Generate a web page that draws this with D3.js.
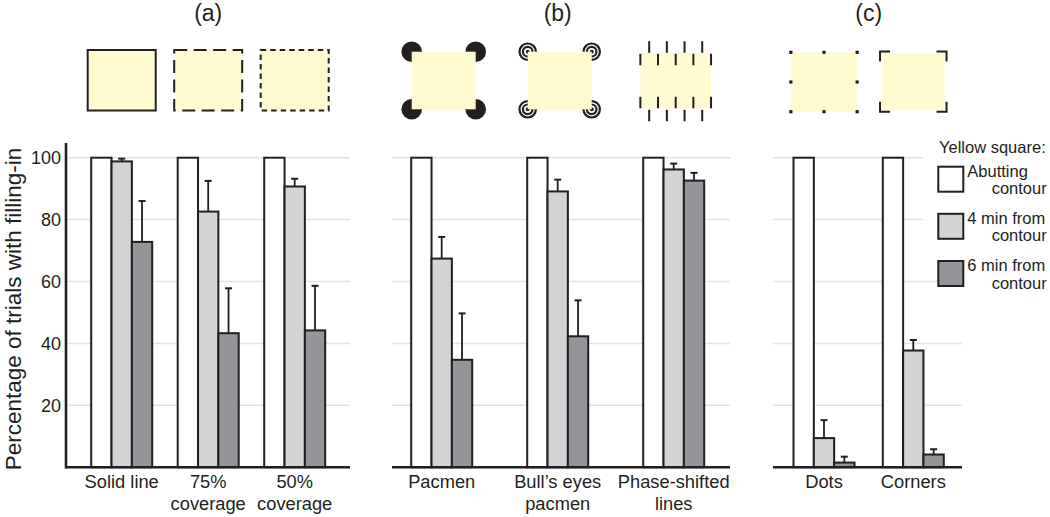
<!DOCTYPE html>
<html>
<head>
<meta charset="utf-8">
<script src="https://cdn.jsdelivr.net/npm/d3@7"></script>
<style>
  body { margin: 0; background: #fff; }
  text { font-family: "Liberation Sans", Arial, Helvetica, sans-serif; fill: #231f20; }
</style>
</head>
<body>
<script>
// ---------------- data ----------------
const panelTitles = ["(a)", "(b)", "(c)"];
const catsA = ["Solid line", "75% coverage", "50% coverage"];
const catsB = ["Pacmen", "Bull’s eyes pacmen", "Phase-shifted lines"];
const catsC = ["Dots", "Corners"];
const labelLinesA = [["Solid line"], ["75%", "coverage"], ["50%", "coverage"]];
const labelLinesB = [["Pacmen"], ["Bull’s eyes", "pacmen"], ["Phase-shifted", "lines"]];
const labelLinesC = [["Dots"], ["Corners"]];
const iconTypes = ["solid", "dashed", "dotted", "pacmen", "bullseye", "phase", "dots", "corners"];
const seriesNames = ["Abutting contour", "4 min from contour", "6 min from contour"];
const legendLines = [["Abutting", "contour"], ["4 min from", "contour"], ["6 min from", "contour"]];
const legendTitle = "Yellow square:";
// values in category order: catsA, catsB, catsC
const abutting = [100, 100, 100, 100, 100, 100, 100, 100];
const min4 = [98.8, 82.6, 90.7, 67.4, 89.1, 96.2, 9.4, 37.7];
const min4Err = [0.9, 9.9, 2.5, 7.0, 3.8, 1.9, 5.8, 3.4];
const min6 = [72.8, 43.3, 44.2, 34.7, 42.3, 92.6, 1.5, 4.1];
const min6Err = [13.2, 14.5, 14.4, 15.0, 11.6, 2.5, 1.9, 1.7];
const yTicks = [20, 40, 60, 80, 100];
const yTitle = "Percentage of trials with filling-in";

// ---------------- setup ----------------
const W = 1050, H = 517;
const ink = "#231f20";
const yellow = "#fffbd1";
const fills = ["#ffffff", "#d1d3d4", "#939598"];
const svg = d3.select("body").append("svg").attr("width", W).attr("height", H);

const y = d3.scaleLinear().domain([0, 100]).range([467.2, 157.7]);

const panels = [
  { cats: catsA, lines: labelLinesA, offset: 0, x0: 66, x1: 350, c: [121.7, 294.7] },
  { cats: catsB, lines: labelLinesB, offset: 3, x0: 392, x1: 730, c: [441.7, 673.7] },
  { cats: catsC, lines: labelLinesC, offset: 6, x0: 773, x1: 962, c: [824, 913.3] }
];
const inner = d3.scaleBand().domain(seriesNames).range([-30.5, 30.5]).paddingInner(0);
const seriesVals = [abutting, min4, min6];
const seriesErr = [null, min4Err, min6Err];

// gridlines
panels.forEach((p, pi) => {
  svg.append("g").selectAll("line").data(yTicks).join("line")
    .attr("x1", p.x0).attr("x2", d => (pi === 2 && d >= 80) ? 923 : p.x1)
    .attr("y1", d => y(d)).attr("y2", d => y(d))
    .attr("stroke", "#e3e3e3").attr("stroke-width", 1.5);
});

// y axis
const yAxis = d3.axisLeft(y).tickValues(yTicks).tickSize(0).tickPadding(5);
const ga = svg.append("g").attr("transform", "translate(66,0)").call(yAxis);
ga.select(".domain").remove();
ga.selectAll("text").style("font-size", "18px").style("font-family", "Liberation Sans, Arial, sans-serif").attr("fill", ink);
svg.append("line").attr("x1", 66).attr("x2", 66).attr("y1", y(0) + 1.3).attr("y2", 143)
  .attr("stroke", ink).attr("stroke-width", 2.6);
svg.append("text").attr("transform", "translate(20.5,309) rotate(-90)")
  .attr("text-anchor", "middle").style("font-size", "22.5px").text(yTitle);

panels.forEach((p, pi) => {
  const x = d3.scalePoint().domain(p.cats).range(p.c);
  const g = svg.append("g");
  // bars
  seriesNames.forEach((s, si) => {
    g.append("g").selectAll("rect").data(p.cats).join("rect")
      .attr("x", d => x(d) + inner(s))
      .attr("width", inner.bandwidth())
      .attr("y", (d, i) => y(seriesVals[si][p.offset + i]))
      .attr("height", (d, i) => y(0) - y(seriesVals[si][p.offset + i]))
      .attr("fill", fills[si]).attr("stroke", ink).attr("stroke-width", 2);
    if (seriesErr[si]) {
      const eg = g.append("g").selectAll("g").data(p.cats).join("g");
      eg.append("line")
        .attr("x1", d => x(d) + inner(s) + inner.bandwidth() / 2)
        .attr("x2", d => x(d) + inner(s) + inner.bandwidth() / 2)
        .attr("y1", (d, i) => y(seriesVals[si][p.offset + i]))
        .attr("y2", (d, i) => y(seriesVals[si][p.offset + i] + seriesErr[si][p.offset + i]))
        .attr("stroke", ink).attr("stroke-width", 1.8);
      eg.append("line")
        .attr("x1", d => x(d) + inner(s) + inner.bandwidth() / 2 - 3.5)
        .attr("x2", d => x(d) + inner(s) + inner.bandwidth() / 2 + 3.5)
        .attr("y1", (d, i) => y(seriesVals[si][p.offset + i] + seriesErr[si][p.offset + i]))
        .attr("y2", (d, i) => y(seriesVals[si][p.offset + i] + seriesErr[si][p.offset + i]))
        .attr("stroke", ink).attr("stroke-width", 2);
    }
  });
  // baseline
  svg.append("line").attr("x1", p.x0).attr("x2", p.x1).attr("y1", y(0)).attr("y2", y(0))
    .attr("stroke", ink).attr("stroke-width", 2.6);
  // category labels
  p.cats.forEach((c, i) => {
    const t = svg.append("text").attr("text-anchor", "middle").style("font-size", "18.3px")
      .attr("x", x(c)).attr("y", 488.3);
    p.lines[i].forEach((ln, li) => {
      t.append("tspan").attr("x", x(c)).attr("y", 488.3 + li * 22).text(ln);
    });
  });
  // panel title
  svg.append("text").attr("text-anchor", "middle").style("font-size", "23px")
    .attr("x", (p.c[0] + p.c[1]) / 2).attr("y", 20.5).text(panelTitles[pi]);
  // icons
  p.cats.forEach((c, i) => drawIcon(iconTypes[p.offset + i], x(c)));
});

function drawIcon(type, cx) {
  const g = svg.append("g");
  if (type === "solid" || type === "dashed" || type === "dotted") {
    const w = 68, h = 60.5, top = 50;
    g.append("rect").attr("x", cx - w / 2).attr("y", top).attr("width", w).attr("height", h)
      .attr("fill", yellow).attr("stroke", ink).attr("stroke-width", 2)
      .attr("stroke-dasharray", type === "dashed" ? "13,6.5" : type === "dotted" ? "5.5,4" : null);
  } else if (type === "pacmen" || type === "bullseye") {
    const w = 64, h = 57.6, top = 51.7, x0 = cx + 2 - w / 2;
    const corners = [[x0, top], [x0 + w, top], [x0, top + h], [x0 + w, top + h]];
    corners.forEach(([px, py]) => {
      if (type === "pacmen") {
        g.append("circle").attr("cx", px).attr("cy", py).attr("r", 10.3).attr("fill", ink);
      } else {
        [8.2, 4.8].forEach(r => g.append("circle").attr("cx", px).attr("cy", py).attr("r", r)
          .attr("fill", "none").attr("stroke", ink).attr("stroke-width", 2.2));
        g.append("circle").attr("cx", px).attr("cy", py).attr("r", 2).attr("fill", ink);
      }
    });
    g.append("rect").attr("x", x0).attr("y", top).attr("width", w).attr("height", h).attr("fill", yellow);
  } else if (type === "phase") {
    const w = 70.7, h = 55, top = 53.3, x0 = cx + 2 - w / 2, L = 11.5;
    g.append("rect").attr("x", x0).attr("y", top).attr("width", w).attr("height", h).attr("fill", yellow);
    d3.range(5).forEach(k => {
      const lx = x0 + k * w / 4;
      g.append("line").attr("x1", lx).attr("x2", lx).attr("y1", top + 0.5).attr("y2", top + L + 0.5)
        .attr("stroke", ink).attr("stroke-width", 2);
      g.append("line").attr("x1", lx).attr("x2", lx).attr("y1", top + h - L).attr("y2", top + h)
        .attr("stroke", ink).attr("stroke-width", 2);
    });
    d3.range(4).forEach(k => {
      const lx = x0 + (k + 0.5) * w / 4;
      g.append("line").attr("x1", lx).attr("x2", lx).attr("y1", top - L - 0.5).attr("y2", top - 0.5)
        .attr("stroke", ink).attr("stroke-width", 2);
      g.append("line").attr("x1", lx).attr("x2", lx).attr("y1", top + h + 1.5).attr("y2", top + h + L + 1.5)
        .attr("stroke", ink).attr("stroke-width", 2);
    });
  } else if (type === "dots") {
    const w = 66.3, h = 59.4, top = 52.3, x0 = cx - w / 2;
    g.append("rect").attr("x", x0).attr("y", top).attr("width", w).attr("height", h).attr("fill", yellow);
    const pts = [[0, 0], [0.5, 0], [1, 0], [0, 0.5], [1, 0.5], [0, 1], [0.5, 1], [1, 1]];
    pts.forEach(([fx, fy]) => g.append("rect").attr("x", x0 + fx * w - 1.6).attr("y", top + fy * h - 1.6)
      .attr("width", 3.2).attr("height", 3.2).attr("fill", ink));
  } else if (type === "corners") {
    const w = 62.5, h = 57, top = 53.3, x0 = cx - w / 2;
    g.append("rect").attr("x", x0).attr("y", top).attr("width", w).attr("height", h).attr("fill", yellow);
    const ox0 = x0 - 2, ox1 = x0 + w + 2, oy0 = top - 1.7, oy1 = top + h + 1.5, a = 10;
    const path = `M${ox0 + a},${oy0}H${ox0}V${oy0 + a} M${ox1 - a},${oy0}H${ox1}V${oy0 + a}` +
      ` M${ox0 + a},${oy1}H${ox0}V${oy1 - a} M${ox1 - a},${oy1}H${ox1}V${oy1 - a}`;
    g.append("path").attr("d", path).attr("fill", "none").attr("stroke", ink).attr("stroke-width", 2);
  }
}

// legend
const lg = svg.append("g");
lg.append("text").attr("x", 939).attr("y", 153.3).style("font-size", "16.5px").text(legendTitle);
const legY = [166.7, 213.8, 261];
seriesNames.forEach((s, i) => {
  lg.append("rect").attr("x", 938.3).attr("y", legY[i]).attr("width", 25).attr("height", 25)
    .attr("fill", fills[i]).attr("stroke", ink).attr("stroke-width", 2);
  lg.append("text").attr("x", 967.3).attr("y", legY[i] + 10).style("font-size", "16.5px").text(legendLines[i][0]);
  lg.append("text").attr("x", 991.7).attr("y", legY[i] + 27.5).style("font-size", "16.5px").text(legendLines[i][1]);
});
</script>
</body>
</html>
